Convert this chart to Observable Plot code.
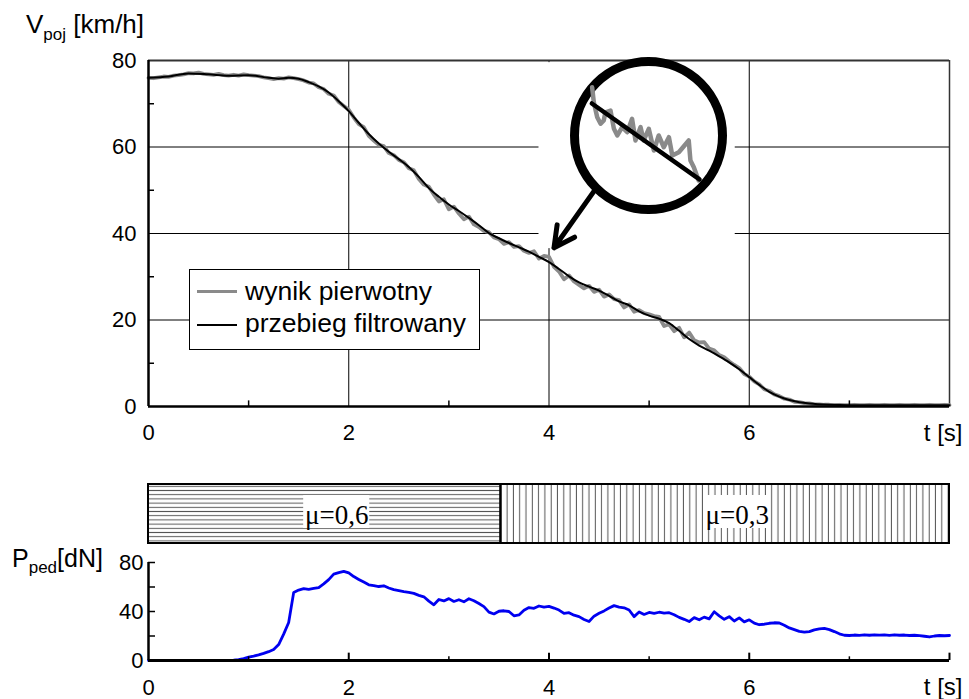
<!DOCTYPE html>
<html><head><meta charset="utf-8">
<script src="https://cdn.jsdelivr.net/npm/d3@7"></script>
<script src="https://cdn.jsdelivr.net/npm/@observablehq/plot@0.6"></script>
<style>
body{margin:0;background:#fff;}
#wrap{position:relative;width:969px;height:699px;font-family:"Liberation Sans",Arial,sans-serif;color:#000;overflow:hidden;}
</style></head><body><div id="wrap"></div>
<script>
// ---------- data ----------
const dt = 0.05; // sampling step of the recorded signals [s]
// raw (unfiltered) vehicle speed [km/h], sampled every 0.05 s from 0 to 8 s
const rawV = [
76.0,75.9,76.1,76.3,76.2,76.5,76.6,76.8,77.1,77.0,77.2,76.9,76.8,76.7,76.9,76.6,76.5,76.7,76.5,76.8,
76.6,76.5,76.4,76.1,75.9,75.7,75.9,75.8,76.1,75.9,75.7,75.4,74.9,74.7,73.8,73.4,72.3,71.9,70.4,69.5,
68.6,66.8,65.3,64.6,62.6,61.5,60.5,60.2,58.6,58.1,57.0,56.5,55.1,54.6,52.6,51.3,50.8,49.0,47.4,47.9,
45.6,46.2,44.6,43.3,43.9,42.1,41.5,40.6,40.3,39.1,38.7,37.6,38.0,36.9,37.1,36.0,35.5,35.9,34.2,34.8,
34.6,32.3,31.2,29.4,30.3,28.9,28.1,27.3,27.9,26.5,27.0,25.4,25.9,24.8,24.6,22.9,23.6,21.9,22.3,21.6,
21.3,20.9,20.7,18.6,19.0,17.4,18.2,16.0,17.1,15.3,14.8,14.9,13.4,13.0,11.9,11.4,10.4,9.6,8.9,7.5,
6.9,5.8,5.1,4.0,3.6,2.8,2.4,1.8,1.6,1.1,1.0,0.8,0.7,0.5,0.5,0.4,0.4,0.3,0.4,0.3,
0.3,0.4,0.3,0.3,0.4,0.3,0.3,0.4,0.3,0.3,0.4,0.3,0.3,0.4,0.3,0.3,0.4,0.3,0.3,0.4,
0.3];
// filtered speed [km/h]
const filtT = [0,0.2,0.4,0.6,0.8,1.0,1.2,1.3,1.4,1.5,1.6,1.7,1.8,1.9,
2.0,2.1,2.2,2.3,2.4,2.5,2.6,2.7,2.8,2.9,3.0,3.1,3.2,3.3,3.4,3.5,3.6,3.7,3.8,3.9,
4.0,4.1,4.2,4.3,4.4,4.5,4.6,4.7,4.8,4.9,5.0,5.1,5.2,5.3,5.4,5.5,5.6,5.7,5.8,5.9,
6.0,6.1,6.2,6.3,6.4,6.5,6.6,6.8,7.0,8.0];
const filtV = [76.0,76.3,77.0,76.8,76.5,76.6,76.0,75.8,76.0,75.8,75.0,74.0,72.6,70.6,
68.3,65.6,63.0,60.8,58.9,57.2,55.4,53.1,50.5,48.5,46.7,45.2,43.6,41.9,40.1,38.9,37.8,36.8,35.8,34.6,
33.4,31.8,30.1,28.7,27.7,26.8,25.6,24.3,23.4,22.0,21.0,20.3,19.3,17.5,15.6,14.1,12.9,11.6,10.2,8.6,
6.8,5.0,3.4,2.3,1.5,1.0,0.7,0.4,0.3,0.3];
// pedal force [dN], sampled every 0.05 s from 0 to 8 s
const forceP = [
0,0,0,0,0,0,0,0,0,0,0,0,0,0,0,0,0,0.3,0.8,1.6,
2.7,3.6,4.6,5.8,7.2,9.0,13.0,21.5,31.0,55.5,57.5,58.6,58.0,58.8,59.5,62.5,66.0,70.5,71.8,72.8,
71.5,68.5,66.2,64.0,61.8,61.2,60.4,61.0,59.2,57.8,57.0,56.2,55.6,54.8,53.2,52.0,48.5,45.5,49.8,48.6,
50.5,48.2,49.6,47.9,50.4,48.8,46.5,44.0,39.5,38.0,40.2,40.6,40.0,36.5,37.2,41.0,43.2,42.6,44.5,43.5,
44.2,42.8,41.2,38.4,39.0,37.0,35.8,33.5,31.8,36.2,38.5,40.5,42.8,44.8,43.6,43.0,41.2,35.8,39.6,37.6,
39.2,38.4,39.4,38.6,39.0,37.4,35.2,33.6,31.8,35.0,33.2,35.4,34.0,39.8,36.5,33.6,35.8,32.2,34.8,31.5,
33.2,30.5,29.2,29.6,30.4,30.8,30.6,28.8,26.6,25.2,23.8,23.2,23.6,25.0,25.8,26.2,25.2,23.6,21.8,20.6,
20.4,20.8,20.5,21.0,20.6,21.0,20.7,20.9,20.5,21.0,20.6,20.8,20.4,20.6,20.3,19.8,19.2,20.0,20.4,20.2,
20.4];
// friction segments
const segStart = [0, 3.52];
const segEnd = [3.52, 8];
const segLabel = ["μ=0,6", "μ=0,3"];
// tick values
const xTicksLabeled = [0, 2, 4, 6];
const xMinor = [1, 3, 5, 7];
const xMajor = [2, 4, 6, 8];
const vTicks = [0, 20, 40, 60, 80];
const vMinor = [10, 30, 50, 70];
const pTicksLabeled = [0, 40, 80];
const pTicks = [20, 40, 60, 80];
// magnifier annotation: detail of the raw signal around t = 4 s
const zoomT = [3.801,3.807,3.819,3.831,3.842,3.848,3.866,3.878,3.890,3.907,3.925,3.942,3.954,3.972,3.983,4.001,4.019,4.036,4.054,4.072,4.084,4.107,4.142,4.148,4.160,4.177];
const zoomRaw = [38.41,37.35,36.29,35.83,36.06,36.64,36.76,35.47,35.0,35.59,35.23,36.18,34.65,35.59,34.65,35.47,33.94,35.0,34.17,34.88,33.59,33.82,34.65,33.24,32.76,31.82];
const zoomFiltT = [3.80, 4.18];
const zoomFiltV = [37.26, 31.9];
const zoomCenter = [{t: 4.0, v: 35}];
const maskBox = [{t1: 3.9, t2: 5.86, v1: 36.5, v2: 79.5}];
const arrowSpec = [{t1: 4.45, v1: 49.8, t2: 4.05, v2: 36.7}];

// ---------- layout helpers ----------
const wrap = document.getElementById("wrap");
function place(el, left, top) {
  el.style.position = "absolute";
  el.style.left = left + "px";
  el.style.top = top + "px";
  wrap.appendChild(el);
  return el;
}
const FONT = "'Liberation Sans', Arial, sans-serif";
const baseStyle = {fontFamily: FONT, fontSize: "22px", color: "black", background: "transparent", overflow: "visible"};

// ---------- top chart: speed ----------
const topChart = Plot.plot({
  width: 969, height: 450,
  marginLeft: 148, marginRight: 20, marginTop: 60, marginBottom: 44,
  style: baseStyle,
  x: {domain: [0, 8]},
  y: {domain: [0, 80]},
  marks: [
    Plot.ruleX([2, 4, 6], {stroke: "black", strokeWidth: 1}),
    Plot.ruleY([20, 40, 60], {stroke: "black", strokeWidth: 1}),
    Plot.ruleY([80], {stroke: "#333", strokeWidth: 2}),
    Plot.ruleX([8], {stroke: "#333", strokeWidth: 1.5}),
    Plot.rect(maskBox, {x1: "t1", x2: "t2", y1: "v1", y2: "v2", fill: "white"}),
    Plot.line(rawV, {x: (d, i) => i * dt, y: d => d, stroke: "#8a8a8a", strokeWidth: 3.8, strokeLinejoin: "round"}),
    Plot.line(filtV, {x: (d, i) => filtT[i], y: d => d, stroke: "black", strokeWidth: 2, curve: "monotone-x"}),
    Plot.arrow(arrowSpec, {x1: "t1", y1: "v1", x2: "t2", y2: "v2", stroke: "black", strokeWidth: 5, headLength: 16, headAngle: 55}),
    Plot.ruleX(xMinor, {y1: 0, y2: 1.3, stroke: "black", strokeWidth: 1.5}),
    Plot.ruleY(vMinor, {x1: 0, x2: 0.06, stroke: "black", strokeWidth: 1.5}),
    Plot.ruleX([0], {stroke: "black", strokeWidth: 2.5}),
    Plot.ruleY([0], {stroke: "black", strokeWidth: 2.5}),
    Plot.axisY({ticks: vTicks, tickSize: 0, tickPadding: 12, label: null}),
    Plot.axisX({ticks: xTicksLabeled, tickSize: 0, tickPadding: 18, label: null}),
    Plot.text(["t [s]"], {x: 8, y: 0, dy: 27, dx: 13, textAnchor: "end", fontSize: 24})
  ]
});
place(topChart, 0, 0);

// magnifier inset
const inset = Plot.plot({
  width: 170, height: 170, margin: 0,
  style: {background: "transparent", overflow: "visible"},
  x: {domain: [3.7, 4.3], axis: null},
  y: {domain: [29, 41], axis: null},
  marks: [
    Plot.dot(zoomCenter, {x: "t", y: "v", r: 74, fill: "white", stroke: "black", strokeWidth: 9}),
    Plot.line(zoomRaw, {x: (d, i) => zoomT[i], y: d => d, stroke: "#8a8a8a", strokeWidth: 4.5, strokeLinejoin: "round"}),
    Plot.line(zoomFiltV, {x: (d, i) => zoomFiltT[i], y: d => d, stroke: "black", strokeWidth: 4.5})
  ]
});
place(inset, 563, 50);

// speed axis title
const vTitle = document.createElement("div");
vTitle.style.cssText = "font-size:26px;line-height:26px;white-space:nowrap;";
vTitle.innerHTML = 'V<span style="font-size:17px;position:relative;top:7px;">poj</span> [km/h]';
place(vTitle, 26, 11);

// legend
const legend = document.createElement("div");
legend.style.cssText = "box-sizing:border-box;width:291px;height:81px;border:1.5px solid black;background:white;font-size:26.5px;line-height:26px;white-space:nowrap;";
legend.innerHTML =
  '<div style="position:absolute;left:7px;top:20px;width:40px;height:3px;background:#8a8a8a"></div>' +
  '<div style="position:absolute;left:55px;top:8px;">wynik pierwotny</div>' +
  '<div style="position:absolute;left:7px;top:54px;width:40px;height:2px;background:black"></div>' +
  '<div style="position:absolute;left:55px;top:40px;">przebieg filtrowany</div>';
place(legend, 189, 269);

// ---------- middle band: friction coefficient ----------
const bandData = segStart.map((s, i) => ({start: s, end: segEnd[i], label: segLabel[i]}));
const band = Plot.plot({
  width: 969, height: 70,
  marginLeft: 148, marginRight: 20, marginTop: 4, marginBottom: 7,
  style: {fontFamily: "'Liberation Serif', 'Times New Roman', serif", background: "transparent", overflow: "visible"},
  x: {domain: [0, 8], axis: null},
  color: {type: "identity"},
  marks: [
    Plot.rect(bandData, {x1: "start", x2: "end", fill: (d, i) => i === 0 ? "url(#hatchH)" : "url(#hatchV)"}),
    Plot.rect(bandData, {x1: d => (d.start + d.end) / 2 - 0.33, x2: d => (d.start + d.end) / 2 + 0.33, dx: 12, insetTop: 11, insetBottom: 15, fill: "white"}),
    Plot.text(bandData, {x: d => (d.start + d.end) / 2, dx: 12, dy: 1, text: "label", fontSize: 27, fill: "black"}),
    Plot.rect(bandData, {x1: "start", x2: "end", fill: "none", stroke: "black", strokeWidth: 2})
  ]
});
const defs = d3.select(band).insert("defs", ":first-child");
const ph = defs.append("pattern").attr("id", "hatchH").attr("patternUnits", "userSpaceOnUse").attr("width", 10).attr("height", 4.2);
ph.append("rect").attr("width", 10).attr("height", 4.2).attr("fill", "white");
ph.append("line").attr("x1", 0).attr("x2", 10).attr("y1", 2.1).attr("y2", 2.1).attr("stroke", "#555").attr("stroke-width", 1);
const pv = defs.append("pattern").attr("id", "hatchV").attr("patternUnits", "userSpaceOnUse").attr("width", 6.3).attr("height", 10);
pv.append("rect").attr("width", 6.3).attr("height", 10).attr("fill", "white");
pv.append("line").attr("x1", 3.1).attr("x2", 3.1).attr("y1", 0).attr("y2", 10).attr("stroke", "#555").attr("stroke-width", 1);
place(band, 0, 480);

// ---------- bottom chart: pedal force ----------
const bottom = Plot.plot({
  width: 969, height: 159,
  marginLeft: 148, marginRight: 20, marginTop: 22, marginBottom: 39,
  style: baseStyle,
  x: {domain: [0, 8]},
  y: {domain: [0, 80]},
  marks: [
    Plot.line(forceP, {x: (d, i) => i * dt, y: d => d, stroke: "#0000f0", strokeWidth: 2.8, strokeLinejoin: "round"}),
    Plot.ruleY(pTicks, {x1: 0, x2: 0.07, stroke: "black", strokeWidth: 1.5}),
    Plot.ruleX(xMajor, {y1: 0, y2: 6, stroke: "black", strokeWidth: 2}),
    Plot.ruleX(xMinor, {y1: 0, y2: 3, stroke: "black", strokeWidth: 1.5}),
    Plot.ruleX([0], {stroke: "black", strokeWidth: 2.5}),
    Plot.ruleY([0], {stroke: "black", strokeWidth: 3}),
    Plot.axisY({ticks: pTicksLabeled, tickSize: 0, tickPadding: 5, label: null}),
    Plot.axisX({ticks: xTicksLabeled, tickSize: 0, tickPadding: 19, label: null}),
    Plot.text(["t [s]"], {x: 8, y: 0, dy: 27, dx: 13, textAnchor: "end", fontSize: 24})
  ]
});
place(bottom, 0, 540);

const pTitle = document.createElement("div");
pTitle.style.cssText = "font-size:25px;line-height:25px;white-space:nowrap;";
pTitle.innerHTML = 'P<span style="font-size:17px;position:relative;top:6px;">ped</span>[dN]';
place(pTitle, 12, 546);
</script></body></html>
